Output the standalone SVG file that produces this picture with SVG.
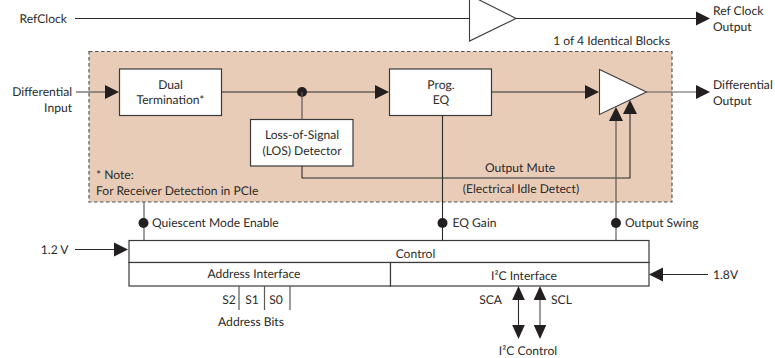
<svg xmlns="http://www.w3.org/2000/svg" width="775" height="358" viewBox="0 0 775 358">
<style>
text{font-family:"Lato","Open Sans","Liberation Sans",sans-serif;font-size:12.1px;fill:#2b2a29;text-rendering:geometricPrecision}
.m{text-anchor:middle}.e{text-anchor:end}
.b{fill:#fff;stroke:#3a3a3a;stroke-width:1.2}
.t{fill:#fff;stroke:#3a3a3a;stroke-width:1.1}
.l{fill:none;stroke:#2b2a29;stroke-width:1.1}
.g{fill:none;stroke:#5a5a5a;stroke-width:1.2}
.h{fill:#231f20}
</style>
<defs>
<polygon id="ar" class="h" points="0,0 -14,-7 -14,7"/>
<circle id="dot" class="h" r="5"/>
</defs>
<rect id="block-area" x="89" y="51.500" width="583" height="150.500" fill="#e9ccb7" stroke="#555" stroke-width="1.2" stroke-dasharray="3.500 2.500"/>
<g id="refclock-in"><text class="e" x="67" y="22.500">RefClock</text></g>
<g id="refclock-buffer"><polygon class="t" points="469.500,-5 516,18.500 469.500,41"/></g>
<g id="refclock-out"><text x="713" y="15">Ref Clock</text><text x="713" y="31">Output</text></g>
<g id="blocks-label"><text class="e" x="670" y="44.700">1 of 4 Identical Blocks</text></g>
<g id="diff-in"><text class="e" x="72" y="96">Differential</text><text class="e" x="72" y="112">Input</text></g>
<g id="dual"><rect class="b" x="119.500" y="69" width="102" height="46.500"/><text class="m" x="170.500" y="89">Dual</text><text class="m" x="170.500" y="104">Termination*</text></g>
<g id="los"><rect class="b" x="250.500" y="119.500" width="102.500" height="46.500"/><text class="m" x="302" y="139">Loss-of-Signal</text><text class="m" x="302" y="155">(LOS) Detector</text></g>
<g id="eq"><rect class="b" x="389.500" y="69" width="102" height="46.500"/><text class="m" x="441" y="89">Prog.</text><text class="m" x="441" y="104">EQ</text></g>
<g id="amp"><polygon class="t" points="599.500,69.500 646.500,92 599.500,114.500"/></g>
<g id="diff-out"><text x="713" y="88.700">Differential</text><text x="713" y="105">Output</text></g>
<g id="note"><text x="96" y="179">* Note:</text><text x="96" y="194.700">For Receiver Detection in PCIe</text></g>
<g id="mute"><text class="m" x="520" y="172">Output Mute</text><text class="m" x="521" y="193">(Electrical Idle Detect)</text></g>
<g id="lab-q"><text x="152" y="227">Quiescent Mode Enable</text></g>
<g id="lab-eq"><text x="452.500" y="227">EQ Gain</text></g>
<g id="lab-os"><text x="625" y="227">Output Swing</text></g>
<g id="v12"><text class="e" x="68.500" y="254">1.2 V</text></g>
<g id="v18"><text x="713" y="278.700">1.8V</text></g>
<g id="control"><rect class="b" x="129" y="240.500" width="520" height="22"/><text class="m" x="415.500" y="258">Control</text></g>
<g id="addr-if"><rect class="b" x="129" y="262.500" width="261.500" height="23.500"/><text class="m" x="254" y="278">Address Interface</text></g>
<g id="i2c-if"><rect class="b" x="390.500" y="262.500" width="258.500" height="23.500"/><text class="m" x="524" y="279.700">I²C Interface</text></g>
<g id="bits"><text class="m" x="229" y="304">S2</text><text class="m" x="252" y="304">S1</text><text class="m" x="276" y="304">S0</text><text class="m" x="251" y="326">Address Bits</text></g>
<g id="i2c-lab"><text class="e" x="502" y="304">SCA</text><text x="551" y="304">SCL</text><text class="m" x="528" y="354.700">I²C Control</text></g>
<g id="connectors">
<path class="l" d="M75 18.500H469.500M516 18.500H696"/>
<use href="#ar" x="710" y="18.500"/>
<path class="g" d="M76 92H106"/><use href="#ar" x="119" y="92"/>
<path class="l" d="M221.500 92H376"/><use href="#ar" x="389" y="92"/>
<use href="#dot" x="302" y="92"/>
<path class="g" d="M302 92V119.500"/>
<path class="l" d="M491.500 92H586"/><use href="#ar" x="599" y="92"/>
<path class="g" d="M646.500 92H696"/><use href="#ar" x="710" y="92"/>
<path class="l" d="M302 166V178H630V112"/>
<use href="#ar" transform="translate(630 100) rotate(-90)"/>
<path class="g" d="M616 240V118"/>
<use href="#ar" transform="translate(616 107) rotate(-90)"/>
<path class="l" d="M442.500 115.500V240.500"/>
<path class="g" d="M144 202V240.500"/>
<use href="#dot" x="143.500" y="223"/><use href="#dot" x="442.500" y="223"/><use href="#dot" x="616" y="223"/>
<path class="l" d="M75 249.500H115"/><use href="#ar" x="128" y="249.500"/>
<path class="l" d="M708 274.500H662"/><use href="#ar" transform="translate(649 274.500) rotate(180)"/>
<path class="g" d="M239 286V310M264.500 286V310M290 286V310"/>
<path class="l" d="M518.500 298V328"/>
<path class="g" d="M540 298V328"/>
<use href="#ar" transform="translate(518.500 286) rotate(-90) scale(1 .9)"/>
<use href="#ar" transform="translate(540 286) rotate(-90) scale(1 .9)"/>
<use href="#ar" transform="translate(518.500 339) rotate(90) scale(1 .9)"/>
<use href="#ar" transform="translate(540 339) rotate(90) scale(1 .9)"/>
</g>
</svg>
